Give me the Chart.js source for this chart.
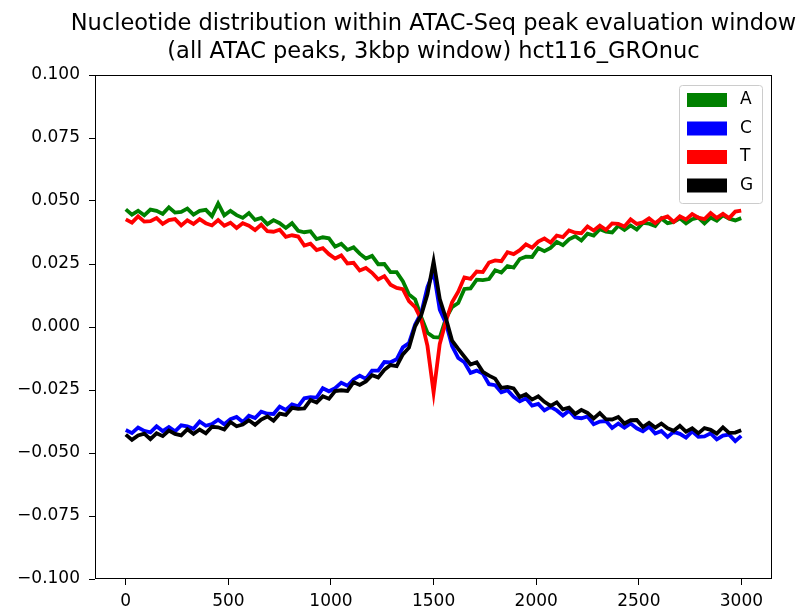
<!DOCTYPE html>
<html>
<head>
<meta charset="utf-8">
<script src="https://cdn.jsdelivr.net/npm/chart.js@4"></script>
<style>
  html, body { margin: 0; padding: 0; background: #fff; }
  canvas { display: block; }
</style>
</head>
<body>
<canvas id="chart" width="800" height="609"></canvas>
<script>
// position within the 3kbp window (bp)
const positions = [0,30,60,90,120,150,180,210,240,270,300,330,360,390,420,450,480,510,540,570,
  600,630,660,690,720,750,780,810,840,870,900,930,960,990,1020,1050,1080,1110,1140,1170,
  1200,1230,1260,1290,1320,1350,1380,1410,1440,1470,1500,1530,1560,1590,1620,1650,1680,1710,1740,1770,
  1800,1830,1860,1890,1920,1950,1980,2010,2040,2070,2100,2130,2160,2190,2220,2250,2280,2310,2340,2370,
  2400,2430,2460,2490,2520,2550,2580,2610,2640,2670,2700,2730,2760,2790,2820,2850,2880,2910,2940,2970,2999];

const valuesA = [0.0467,0.0446,0.0461,0.0443,0.0466,0.0461,0.0449,0.0475,0.0454,0.0457,
  0.0470,0.0446,0.0461,0.0465,0.0440,0.0490,0.0443,0.0461,0.0444,0.0433,
  0.0452,0.0425,0.0433,0.0408,0.0424,0.0412,0.0393,0.0412,0.0382,0.0376,
  0.0380,0.0349,0.0356,0.0352,0.0319,0.0330,0.0306,0.0316,0.0291,0.0272,
  0.0282,0.0249,0.0250,0.0218,0.0218,0.0182,0.0129,0.0110,0.0039,-0.0023,
  -0.0040,-0.0042,0.0034,0.0079,0.0095,0.0151,0.0153,0.0188,0.0186,0.0190,
  0.0225,0.0216,0.0242,0.0236,0.0270,0.0279,0.0278,0.0313,0.0301,0.0314,
  0.0338,0.0325,0.0348,0.0360,0.0343,0.0370,0.0363,0.0388,0.0378,0.0375,
  0.0402,0.0385,0.0403,0.0387,0.0413,0.0410,0.0401,0.0431,0.0412,0.0417,
  0.0431,0.0411,0.0428,0.0434,0.0411,0.0434,0.0422,0.0443,0.0430,0.0423,
  0.0432];

const valuesC = [-0.0409,-0.0421,-0.0399,-0.0412,-0.0418,-0.0394,-0.0413,-0.0397,-0.0414,-0.0390,
  -0.0394,-0.0404,-0.0375,-0.0392,-0.0385,-0.0368,-0.0386,-0.0366,-0.0357,-0.0377,
  -0.0352,-0.0361,-0.0336,-0.0344,-0.0345,-0.0316,-0.0329,-0.0307,-0.0315,-0.0283,
  -0.0278,-0.0280,-0.0243,-0.0255,-0.0243,-0.0221,-0.0233,-0.0208,-0.0193,-0.0206,
  -0.0173,-0.0173,-0.0139,-0.0140,-0.0128,-0.0081,-0.0064,0.0010,0.0056,0.0158,
  0.0220,0.0069,0.0015,-0.0076,-0.0123,-0.0140,-0.0182,-0.0173,-0.0185,-0.0227,
  -0.0231,-0.0259,-0.0251,-0.0277,-0.0295,-0.0283,-0.0312,-0.0305,-0.0331,-0.0317,
  -0.0331,-0.0351,-0.0332,-0.0359,-0.0362,-0.0355,-0.0386,-0.0375,-0.0373,-0.0401,
  -0.0383,-0.0400,-0.0383,-0.0402,-0.0414,-0.0396,-0.0423,-0.0413,-0.0436,-0.0416,
  -0.0424,-0.0439,-0.0414,-0.0436,-0.0434,-0.0422,-0.0446,-0.0431,-0.0427,-0.0453,
  -0.0432];

const valuesT = [0.0427,0.0414,0.0439,0.0418,0.0420,0.0432,0.0409,0.0424,0.0428,0.0403,
  0.0423,0.0409,0.0428,0.0412,0.0403,0.0424,0.0402,0.0414,0.0393,0.0412,
  0.0402,0.0385,0.0406,0.0380,0.0378,0.0386,0.0358,0.0364,0.0359,0.0323,
  0.0331,0.0305,0.0313,0.0289,0.0272,0.0284,0.0252,0.0255,0.0224,0.0234,
  0.0215,0.0189,0.0202,0.0168,0.0155,0.0150,0.0103,0.0079,0.0029,-0.0075,
  -0.0260,-0.0067,0.0023,0.0098,0.0140,0.0197,0.0191,0.0220,0.0218,0.0256,
  0.0264,0.0261,0.0297,0.0289,0.0305,0.0328,0.0315,0.0339,0.0351,0.0335,
  0.0363,0.0357,0.0383,0.0374,0.0372,0.0399,0.0383,0.0402,0.0386,0.0411,
  0.0409,0.0399,0.0427,0.0409,0.0415,0.0431,0.0412,0.0431,0.0439,0.0417,
  0.0439,0.0427,0.0448,0.0434,0.0428,0.0452,0.0433,0.0449,0.0432,0.0458,
  0.0462];

const valuesG = [-0.0427,-0.0448,-0.0430,-0.0423,-0.0445,-0.0422,-0.0433,-0.0411,-0.0424,-0.0430,
  -0.0406,-0.0424,-0.0407,-0.0422,-0.0396,-0.0398,-0.0407,-0.0377,-0.0394,-0.0387,
  -0.0370,-0.0388,-0.0367,-0.0355,-0.0372,-0.0344,-0.0349,-0.0321,-0.0325,-0.0323,
  -0.0290,-0.0300,-0.0275,-0.0285,-0.0254,-0.0251,-0.0254,-0.0219,-0.0230,-0.0216,
  -0.0191,-0.0200,-0.0170,-0.0151,-0.0155,-0.0109,-0.0082,0.0003,0.0048,0.0130,
  0.0260,0.0111,0.0035,-0.0054,-0.0087,-0.0118,-0.0149,-0.0140,-0.0178,-0.0193,
  -0.0205,-0.0242,-0.0238,-0.0244,-0.0278,-0.0267,-0.0288,-0.0275,-0.0297,-0.0313,
  -0.0299,-0.0327,-0.0320,-0.0345,-0.0329,-0.0341,-0.0363,-0.0342,-0.0366,-0.0367,
  -0.0357,-0.0383,-0.0370,-0.0369,-0.0397,-0.0380,-0.0399,-0.0383,-0.0402,-0.0412,
  -0.0392,-0.0415,-0.0402,-0.0422,-0.0401,-0.0408,-0.0423,-0.0398,-0.0420,-0.0419,
  -0.0410];

const seriesNames = ['A', 'C', 'T', 'G'];
const seriesColors = ['#008000', '#0000ff', '#ff0000', '#000000'];
const xTicks = [0, 500, 1000, 1500, 2000, 2500, 3000];
const yTicks = [-0.1, -0.075, -0.05, -0.025, 0, 0.025, 0.05, 0.075, 0.1];
const titleLines = ['Nucleotide distribution within ATAC-Seq peak evaluation window',
  '(all ATAC peaks, 3kbp window) hct116_GROnuc'];

const FONT = '"DejaVu Sans", sans-serif';
const allValues = [valuesA, valuesC, valuesT, valuesG];

const datasets = seriesNames.map((name, i) => ({
  label: name,
  data: positions.map((x, j) => ({ x: x, y: allValues[i][j] })),
  borderColor: seriesColors[i],
  backgroundColor: seriesColors[i],
  borderWidth: 3.8,
  borderJoinStyle: 'miter',
  pointRadius: 0,
  tension: 0,
  order: 4 - i   // G drawn last (on top), like matplotlib
}));

// title, frame and legend drawn by hand, matplotlib style
const decorations = {
  id: 'decorations',
  afterDraw(chart) {
    const ctx = chart.ctx;
    const a = chart.chartArea;
    ctx.save();
    // frame
    ctx.strokeStyle = '#000';
    ctx.lineWidth = 1;
    ctx.strokeRect(a.left + 0.5, a.top + 0.5, a.right - a.left - 1, a.bottom - a.top - 1);

    // title
    ctx.fillStyle = '#000';
    ctx.font = '22.5px ' + FONT;
    ctx.textAlign = 'center';
    ctx.textBaseline = 'alphabetic';
    const cx = (a.left + a.right) / 2;
    ctx.fillText(titleLines[0], cx, 30);
    ctx.fillText(titleLines[1], cx, 58);

    // legend
    const lx = 679, ly = 85, lw = 83, lh = 118;
    ctx.fillStyle = 'rgba(255,255,255,0.8)';
    ctx.strokeStyle = '#cccccc';
    ctx.beginPath();
    ctx.roundRect(lx + 0.5, ly + 0.5, lw, lh, 3);
    ctx.fill();
    ctx.stroke();
    ctx.font = '17px ' + FONT;
    ctx.textAlign = 'left';
    ctx.textBaseline = 'middle';
    seriesNames.forEach((name, i) => {
      const y = 93 + i * 28.5;
      ctx.fillStyle = seriesColors[i];
      ctx.fillRect(687, y, 40, 14);
      ctx.fillStyle = '#000';
      ctx.fillText(name, 740, y + 7);
    });
    ctx.restore();
  }
};

new Chart(document.getElementById('chart'), {
  type: 'line',
  data: { datasets: datasets },
  options: {
    responsive: false,
    animation: false,
    devicePixelRatio: 1,
    layout: { padding: { top: 75, right: 28, bottom: 0, left: 0 } },
    plugins: { legend: { display: false }, tooltip: { enabled: false }, title: { display: false } },
    scales: {
      x: {
        type: 'linear',
        min: -150,
        max: 3149,
        afterBuildTicks: scale => { scale.ticks = xTicks.map(v => ({ value: v })); },
        afterFit: scale => { scale.height = 30; },
        grid: { drawOnChartArea: false, color: '#000', tickLength: 6, tickWidth: 1 },
        border: { display: false },
        ticks: {
          color: '#000',
          font: { family: FONT, size: 17 },
          padding: 6,
          maxRotation: 0,
          callback: v => String(v)
        }
      },
      y: {
        type: 'linear',
        min: -0.1,
        max: 0.1,
        afterBuildTicks: scale => { scale.ticks = yTicks.map(v => ({ value: v })); },
        afterFit: scale => { scale.width = 95; },
        grid: { drawOnChartArea: false, color: '#000', tickLength: 6, tickWidth: 1 },
        border: { display: false },
        ticks: {
          color: '#000',
          font: { family: FONT, size: 17 },
          padding: 9,
          callback: v => (v < 0 ? '\u2212' : '') + Math.abs(v).toFixed(3)
        }
      }
    }
  },
  plugins: [decorations]
});
</script>
</body>
</html>
